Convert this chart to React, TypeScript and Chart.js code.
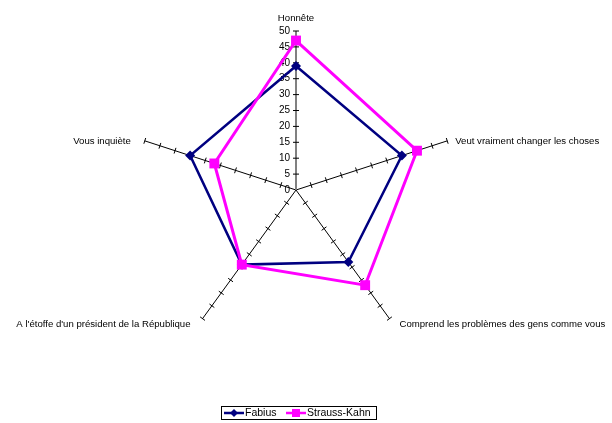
import React, { useEffect, useRef } from "react";
import { Chart, registerables } from "chart.js";

Chart.register(...registerables);

const categories = [
  "Honnête",
  "Veut vraiment changer les choses",
  "Comprend les problèmes des gens comme vous",
  "A l'étoffe d'un président de la République",
  "Vous inquiète",
];
const fabius = [39, 35, 28, 29, 35];
const straussKahn = [47, 40, 37, 29, 27];
const seriesNames = ["Fabius", "Strauss-Kahn"];
const tickValues = [0, 5, 10, 15, 20, 25, 30, 35, 40, 45, 50];

const FONT = "Liberation Sans, Arial, sans-serif";
const NAVY = "#000080";
const MAGENTA = "#FF00FF";

const decorPlugin = {
  id: "decor",
  beforeDatasetsDraw(chart: any) {
    const ctx = chart.ctx;
    const scale = chart.scales.r;
    const n = categories.length;
    ctx.save();
    ctx.strokeStyle = "#000";
    ctx.lineWidth = 1;
    for (let i = 0; i < n; i++) {
      const angle = scale.getIndexAngle(i) - Math.PI / 2;
      const px = -Math.sin(angle);
      const py = Math.cos(angle);
      for (const v of tickValues) {
        if (v === 0) continue;
        const p = scale.getPointPositionForValue(i, v);
        ctx.beginPath();
        ctx.moveTo(p.x - px * 3, p.y - py * 3);
        ctx.lineTo(p.x + px * 3, p.y + py * 3);
        ctx.stroke();
      }
    }
    ctx.fillStyle = "#000";
    ctx.font = `10px ${FONT}`;
    ctx.textAlign = "right";
    ctx.textBaseline = "middle";
    for (const v of tickValues) {
      const p = scale.getPointPositionForValue(0, v);
      ctx.fillText(String(v), p.x - 6, p.y);
    }
    ctx.restore();
  },
  afterDraw(chart: any) {
    const ctx = chart.ctx;
    const scale = chart.scales.r;
    const r = scale.drawingArea;
    ctx.save();
    ctx.fillStyle = "#000";
    ctx.font = `9.6px ${FONT}`;
    ctx.textBaseline = "middle";
    const offs = [
      [0, -13, "center"],
      [8, 0, "left"],
      [10, 6, "left"],
      [-12, 6, "right"],
      [-14, 0, "right"],
    ];
    categories.forEach((label, i) => {
      const p = scale.getPointPosition(i, r);
      ctx.textAlign = offs[i][2];
      ctx.fillText(label, p.x + (offs[i][0] as number), p.y + (offs[i][1] as number));
    });

    // legend
    const ds = chart.data.datasets;
    const boxX = 221;
    const boxY = 406;
    const boxW = 155;
    const boxH = 13;
    ctx.strokeStyle = "#000";
    ctx.lineWidth = 1;
    ctx.strokeRect(boxX + 0.5, boxY + 0.5, boxW, boxH);
    const items = [
      { x: boxX + 3, ds: ds[1] },
      { x: boxX + 65, ds: ds[0] },
    ];
    ctx.font = `10.5px ${FONT}`;
    ctx.textAlign = "left";
    const cy = boxY + boxH / 2 + 0.5;
    items.forEach((it) => {
      const d = it.ds;
      ctx.strokeStyle = d.borderColor;
      ctx.lineWidth = 2.5;
      ctx.beginPath();
      ctx.moveTo(it.x, cy);
      ctx.lineTo(it.x + 20, cy);
      ctx.stroke();
      ctx.fillStyle = d.borderColor;
      const mx = it.x + 10;
      if (d.pointStyle === "rect") {
        ctx.fillRect(mx - 4, cy - 4, 8, 8);
      } else {
        ctx.beginPath();
        ctx.moveTo(mx, cy - 4);
        ctx.lineTo(mx + 4, cy);
        ctx.lineTo(mx, cy + 4);
        ctx.lineTo(mx - 4, cy);
        ctx.closePath();
        ctx.fill();
      }
      ctx.fillStyle = "#000";
      ctx.fillText(d.label, it.x + 21, cy);
    });
    ctx.restore();
  },
};

export default function App() {
  const ref = useRef<HTMLCanvasElement | null>(null);
  useEffect(() => {
    if (!ref.current) return;
    const chart = new Chart(ref.current, {
      type: "radar",
      data: {
        labels: categories,
        datasets: [
          {
            label: seriesNames[1],
            data: straussKahn,
            borderColor: MAGENTA,
            backgroundColor: MAGENTA,
            borderWidth: 3,
            pointStyle: "rect",
            pointRadius: 7,
            pointBorderWidth: 0,
            pointBackgroundColor: MAGENTA,
            fill: false,
          },
          {
            label: seriesNames[0],
            data: fabius,
            borderColor: NAVY,
            backgroundColor: NAVY,
            borderWidth: 2.5,
            pointStyle: "rectRot",
            pointRadius: 5,
            pointBorderWidth: 0,
            pointBackgroundColor: NAVY,
            fill: false,
          },
        ],
      },
      options: {
        animation: false,
        responsive: false,
        layout: { padding: { top: 31, bottom: 74, left: 0, right: 20 } },
        plugins: {
          legend: { display: false },
          tooltip: { enabled: false },
        },
        scales: {
          r: {
            min: 0,
            max: 50,
            ticks: { stepSize: 5, display: false },
            grid: { display: false },
            pointLabels: { display: false },
            angleLines: {
              display: true,
              color: (c: any) => (c.index === 0 ? "#808080" : "#000"),
              lineWidth: (c: any) => (c.index === 0 ? 2 : 1),
            },
          },
        },
      },
      plugins: [decorPlugin],
    });
    return () => chart.destroy();
  }, []);
  return (
    <div style={{ position: "fixed", left: 0, top: 0, width: 612, height: 423, background: "#fff" }}>
      <canvas ref={ref} width={612} height={423} style={{ display: "block" }} />
    </div>
  );
}
